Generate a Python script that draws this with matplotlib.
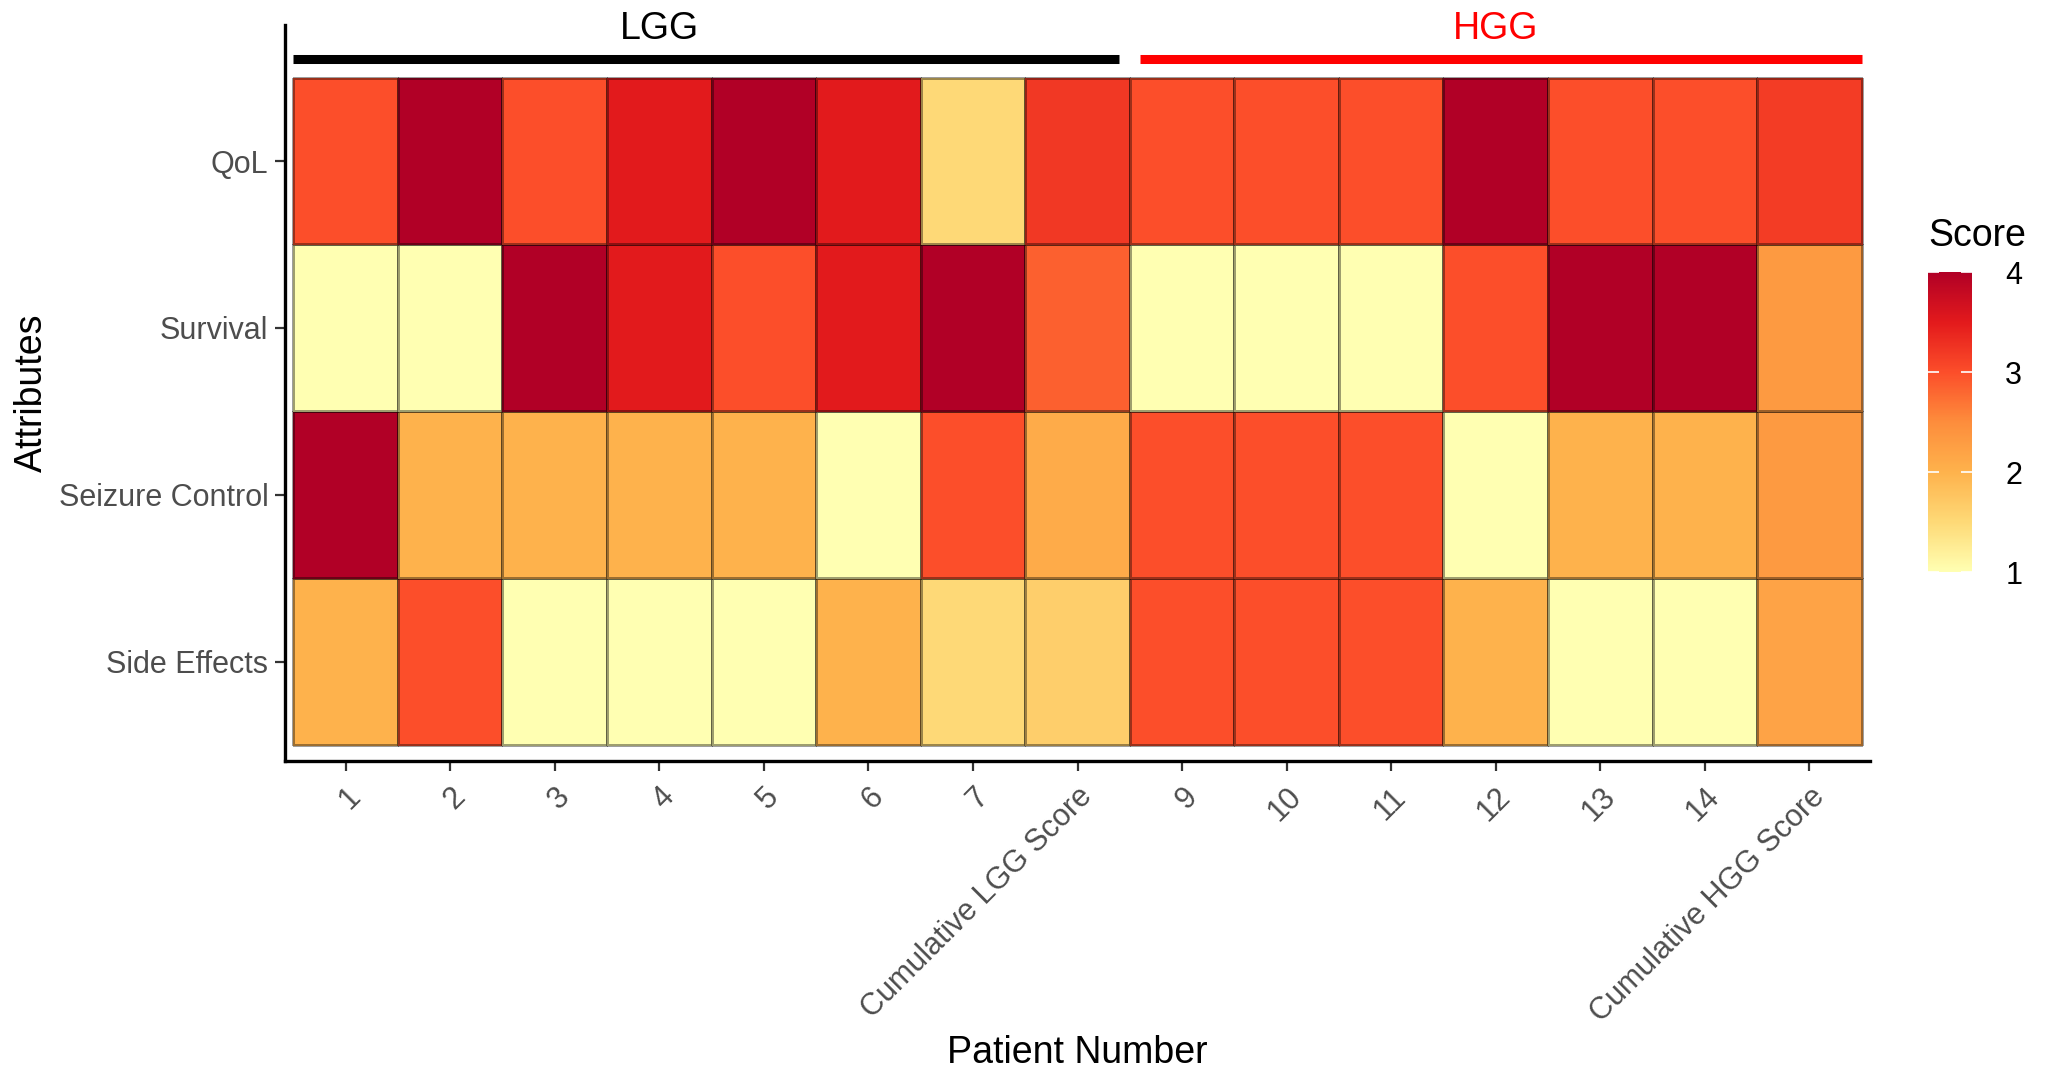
import matplotlib
matplotlib.use("Agg")
import matplotlib.pyplot as plt
import numpy as np
from matplotlib.colors import LinearSegmentedColormap, Normalize
import matplotlib.cm as cm

plt.rcParams['font.family'] = ['Liberation Sans', 'DejaVu Sans']

# ---- data ----
patients = ["1", "2", "3", "4", "5", "6", "7", "Cumulative LGG Score",
            "9", "10", "11", "12", "13", "14", "Cumulative HGG Score"]
attributes = ["Side Effects", "Seizure Control", "Survival", "QoL"]  # bottom -> top

qol = [3, 4, 3, 3.5, 4, 3.5, 1.5, 3.21, 3, 3, 3, 4, 3, 3, 3.17]
survival = [1, 1, 4, 3.5, 3, 3.5, 4, 2.86, 1, 1, 1, 3, 4, 4, 2.33]
seizure_control = [4, 2, 2, 2, 2, 1, 3, 2.1, 3, 3, 3, 1, 2, 2, 2.33]
side_effects = [2, 3, 1, 1, 1, 2, 1.5, 1.64, 3, 3, 3, 2, 1, 1, 2.2]

groups = ["LGG", "HGG"]
group_colors = ["black", "red"]
group_first = [1, 9]    # first column (1-based)
group_last = [8, 15]    # last column (1-based)
group_label_at = [4, 12]

score_ticks = [1, 2, 3, 4]
palette = ["#FFFFB2", "#FED976", "#FEB24C", "#FD8D3C", "#FC4E2A", "#E31A1C", "#B10026"]

# ---- figure ----
W, H = 2051, 1073
fig = plt.figure(figsize=(W / 100, H / 100), dpi=100)
ax = fig.add_axes([285 / W, 1 - 761 / H, (1870 - 285) / W, (761 - 25) / H])

cmap = LinearSegmentedColormap.from_list("ylorrd7", palette)
norm = Normalize(vmin=1, vmax=4)

Z = np.array([side_effects, seizure_control, survival, qol])
xe = np.arange(len(patients) + 1) + 0.5
ye = np.arange(len(attributes) + 1) + 0.5
ax.pcolormesh(xe, ye, Z, cmap=cmap, norm=norm,
              edgecolors=(0, 0, 0, 0.38), linewidth=0.9)

n = len(patients)
ax.set_xlim(0.42, n + 0.58)
ax.set_ylim(0.405, len(attributes) + 0.815)

ax.set_xticks(np.arange(1, n + 1))
ax.set_xticklabels(patients, rotation=45, ha='right', va='top',
                   rotation_mode='anchor', fontsize=22, color='#4D4D4D')
ax.set_yticks(np.arange(1, len(attributes) + 1))
ax.set_yticklabels(attributes, fontsize=22, color='#4D4D4D')
ax.tick_params(axis='both', length=7, width=1.6, color='#333333')
ax.tick_params(axis='x', pad=8)
ax.tick_params(axis='y', pad=5)

for s in ['top', 'right']:
    ax.spines[s].set_visible(False)
for s in ['left', 'bottom']:
    ax.spines[s].set_linewidth(2.4)
    ax.spines[s].set_color('black')

ax.set_xlabel("Patient Number", fontsize=27, labelpad=5)
ax.set_ylabel("Attributes", fontsize=27, labelpad=6)

# group bars and labels
bar_y = len(attributes) + 0.61
for g, c, a, b, lx in zip(groups, group_colors, group_first, group_last, group_label_at):
    x0 = a - 0.5 + (0.1 if a > 1 else 0.0)
    x1 = b + 0.5 - (0.1 if b < n else 0.0)
    ax.plot([x0, x1], [bar_y, bar_y], color=c, lw=6.5,
            solid_capstyle='butt', clip_on=False)
    ax.text(lx, len(attributes) + 0.79, g, color=c, fontsize=27,
            ha='center', va='center', clip_on=False)

# colorbar
cax = fig.add_axes([1928 / W, 1 - 572 / H, 44 / W, 300 / H])
cb = fig.colorbar(cm.ScalarMappable(norm=norm, cmap=cmap), cax=cax, ticks=score_ticks)
cb.outline.set_visible(False)
cax.tick_params(which='both', direction='in', length=8, width=1.2, color='white',
                left=True, right=True, labelsize=22, pad=24)
cax.set_yticklabels([str(t) for t in score_ticks])
fig.text(1928 / W, 1 - 236 / H, "Score", fontsize=27, ha='left', va='center')

fig.savefig("out.png", dpi=100)
